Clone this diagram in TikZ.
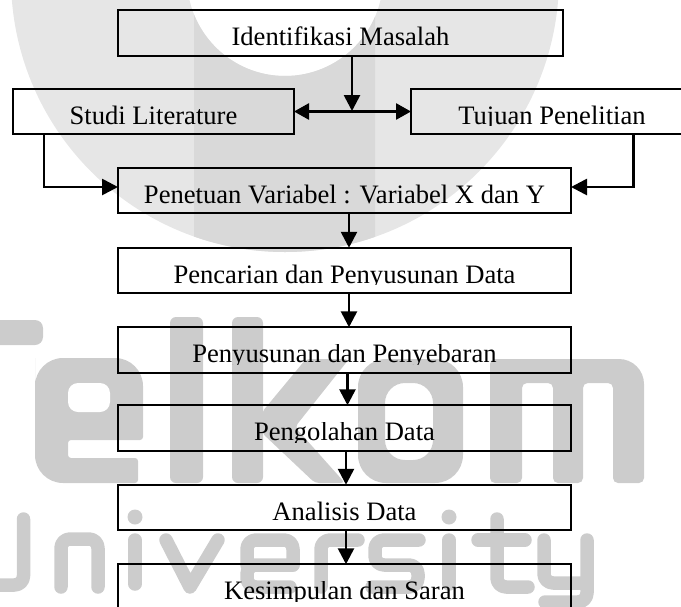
\documentclass[tikz,border=0pt]{standalone}
\usepackage{fontspec}
\usepackage{trimclip}
\setmainfont{Liberation Serif}
\usetikzlibrary{arrows.meta}
\definecolor{ringgray}{HTML}{E6E6E6}
\definecolor{bandgray}{HTML}{D9D9D9}
\definecolor{lettergray}{HTML}{CCCCCC}
\newcommand{\cuttext}[1]{\clipbox{0pt {\depth-1.5pt} 0pt 0pt}{#1}}
\tikzset{
  stepbox/.style={draw=black,line width=2.2pt,inner sep=0pt,outer sep=0pt,minimum height=45.5pt,
    text height=25pt,text depth=0pt,font=\fontsize{26.6}{30}\selectfont},
  widebox/.style={stepbox,minimum width=453pt},
  arr/.style={draw=black,line width=2.7pt,-{Triangle[width=16pt,length=16pt]}},
  biarr/.style={draw=black,line width=2.7pt,{Triangle[width=16pt,length=15pt]}-{Triangle[width=16pt,length=15pt]}},
  wm/.style={lettergray,line width=13.5pt,line cap=round,line join=round,rounded corners=9pt},
  wmfill/.style={fill=lettergray,draw=none}
}
\begin{document}
\begin{tikzpicture}[x=1pt,y=-1pt]
\useasboundingbox (0,0) rectangle (681,606);
\clip (0,0) rectangle (681,606);
% watermark: ring
\fill[ringgray,even odd rule] (285,-22) circle (274pt) (285,-22) circle (98pt);
\begin{scope}
\clip (194,-10) rectangle (375,300);
\fill[bandgray,even odd rule] (285,-22) circle (274pt) (285,-22) circle (98pt);
\end{scope}
% watermark: Telkom
\fill[wmfill,rounded corners=8pt] (-30,320) rectangle (43,345);
\fill[wmfill] (35,386) [rounded corners=28pt] -- (35,358) -- (143,358) [rounded corners=3pt] -- (143,440) -- (68,440) -- (68,458) -- (138,458) -- (138,483) [rounded corners=28pt] -- (35,483) -- cycle;
\fill[white,rounded corners=10pt] (68,383) rectangle (110,412);
\fill[wmfill,rounded corners=6pt] (170,317) rectangle (203,483);
\fill[wmfill,rounded corners=6pt] (232,317) rectangle (263,483);
\fill[wmfill,rounded corners=4pt] (262,412) -- (306,359) -- (349,359) -- (295,427) -- (345,483) -- (315,483) -- (262,433) -- cycle;
\fill[wmfill,even odd rule,rounded corners=28pt] (358,359) rectangle (463,483) [rounded corners=20pt] (385,383) rectangle (433,460);
\fill[wmfill,rounded corners=5pt] (490,483) -- (490,359) [rounded corners=25pt] -- (644,359) [rounded corners=5pt] -- (644,483) -- (613,483) -- (613,383) -- (583,383) -- (583,483) -- (553,483) -- (553,383) -- (522,383) -- (522,483) -- cycle;
% watermark: University
\draw[wm] (23.5,519) -- (23.5,585) -- (-20,585);
\draw[wm] (61,587) -- (61,539) -- (98,539) -- (98,587);
\draw[wm] (135,540) -- (135,584);
\fill[wmfill] (135,517) circle (7.5pt);
\draw[wm,rounded corners=0pt] (166,540) -- (190,587) -- (218,540);
\draw[wm] (293,565) -- (247,565) -- (247,587) -- (290,587);
\draw[wm] (247,565) -- (247,540) -- (293,540) -- (293,565);
\draw[wm] (321,587) -- (321,540) -- (358,540);
\draw[wm] (419,540) -- (375,540) -- (375,565) -- (418,565) -- (418,587) -- (372,587);
\draw[wm] (449,540) -- (449,584);
\fill[wmfill] (449,517) circle (7.5pt);
\draw[wm] (497,519) -- (497,587) -- (528,587);
\draw[wm,rounded corners=0pt] (478,540) -- (525,540);
\draw[wm] (544,540) -- (544,583) -- (587,583);
\draw[wm] (587,540) -- (587,602) -- (545,602);
% boxes
\node[stepbox,minimum width=445pt] (idm) at (340.5,33) {Identifikasi Masalah};
\node[stepbox,minimum width=281pt] (studi) at (153.5,111.5) {Studi Literature};
\node[stepbox,minimum width=282pt] (tujuan) at (552,111.5) {\cuttext{Tujuan Penelitian}};
\node[widebox] (pv) at (344.5,190.5) {Penetuan Variabel : Variabel X dan Y};
\node[widebox] (pd) at (344.5,270.5) {\cuttext{Pencarian dan Penyusunan Data}};
\node[widebox] (ps) at (344.5,350) {\cuttext{Penyusunan dan Penyebaran}};
\node[widebox] (po) at (344.5,428) {\cuttext{Pengolahan Data}};
\node[widebox] (an) at (344.5,507.5) {Analisis Data};
\node[widebox] (ks) at (344.5,587) {\cuttext{Kesimpulan dan Saran}};
% connectors
\coordinate (junction) at (352,111);
\draw[biarr] (studi.east) -- (tujuan.west);
\draw[arr] ([xshift=11.5pt]idm.south) -- (junction);
\draw[arr] ([xshift=-109.5pt]studi.south) |- ([yshift=3.5pt]pv.west);
\draw[arr] ([xshift=81.5pt]tujuan.south) |- ([yshift=3.5pt]pv.east);
\draw[arr] ([xshift=4.5pt]pv.south) -- ([xshift=4.5pt]pd.north);
\draw[arr] ([xshift=4.5pt]pd.south) -- ([xshift=4.5pt]ps.north);
\draw[arr] ([xshift=3pt]ps.south) -- ([xshift=3pt]po.north);
\draw[arr] ([xshift=1.5pt]po.south) -- ([xshift=1.5pt]an.north);
\draw[arr] ([xshift=1.5pt]an.south) -- ([xshift=1.5pt]ks.north);
\end{tikzpicture}
\end{document}
